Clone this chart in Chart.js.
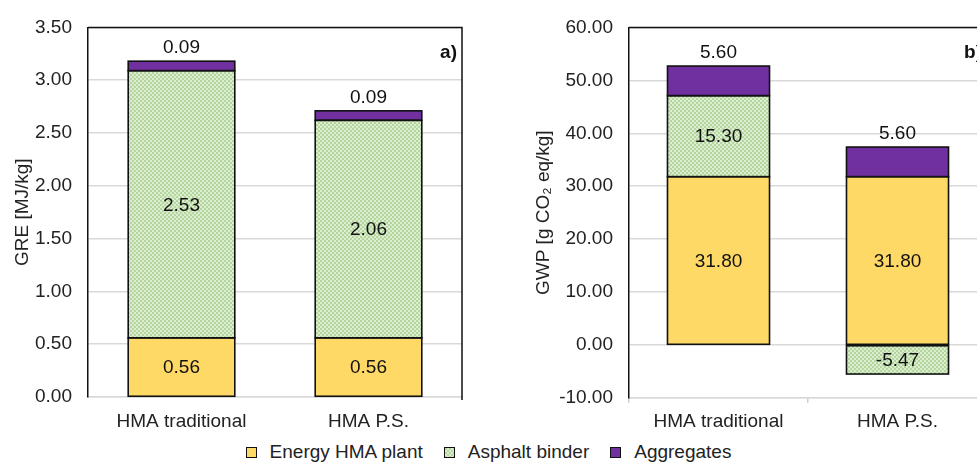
<!DOCTYPE html>
<html>
<head>
<meta charset="utf-8">
<script src="https://cdn.jsdelivr.net/npm/chart.js@4.4.1/dist/chart.umd.min.js"></script>
<style>
  html, body { margin: 0; padding: 0; background: #fff; }
  body { width: 977px; height: 463px; overflow: hidden; position: relative; font-family: 'Liberation Sans', Arial, sans-serif; }
  #chartA { position: absolute; left: 0; top: 0; }
  #chartB { position: absolute; left: 490px; top: 0; }
  #legend { position: absolute; left: 0; top: 441px; width: 977px; height: 22px;
    display: flex; justify-content: center; align-items: center; gap: 21px;
    font-size: 19px; color: #222; }
  #legend .item { display: flex; align-items: center; }
  #legend .box { width: 9px; height: 9px; border: 1.5px solid #111; margin-right: 13px; }
</style>
</head>
<body>
<canvas id="chartA" width="480" height="440"></canvas>
<canvas id="chartB" width="520" height="440"></canvas>
<div id="legend"></div>
<script>
// categories and series
const categories = ['HMA traditional', 'HMA P.S.'];
const seriesNames = ['Energy HMA plant', 'Asphalt binder', 'Aggregates'];

// a) GRE [MJ/kg]
const greEnergy = [0.56, 0.56];
const greBinder = [2.53, 2.06];
const greAggregates = [0.09, 0.09];
const greAxis = { min: 0, max: 3.5, step: 0.5 };

// b) GWP [g CO2 eq/kg]
const gwpEnergy = [31.80, 31.80];
const gwpBinder = [15.30, -5.47];
const gwpAggregates = [5.60, 5.60];
const gwpAxis = { min: -10, max: 60, step: 10 };

const FONT = "'Liberation Sans', Arial, sans-serif";
Chart.defaults.font.family = FONT;
Chart.defaults.font.size = 19;
Chart.defaults.color = '#222';

function makeChecker() {
  const c = document.createElement('canvas');
  c.width = 4; c.height = 4;
  const g = c.getContext('2d');
  g.fillStyle = '#dcedd0';
  g.fillRect(0, 0, 4, 4);
  g.fillStyle = '#b2d69d';
  g.fillRect(0, 0, 2, 2);
  g.fillRect(2, 2, 2, 2);
  return c;
}
const checkerCanvas = makeChecker();
const binderFill = document.createElement('canvas').getContext('2d').createPattern(checkerCanvas, 'repeat');
const seriesColors = ['#ffd966', binderFill, '#7030a0'];

// outlines (single line on shared edges) + value labels
const valueLabels = {
  id: 'valueLabels',
  afterDatasetsDraw(chart, args, opts) {
    const { ctx } = chart;
    ctx.save();
    ctx.strokeStyle = '#111';
    ctx.lineWidth = 1.6;
    chart.data.datasets.forEach((ds, i) => {
      chart.getDatasetMeta(i).data.forEach(bar => {
        const { x, y, base, width } = bar.getProps(['x', 'y', 'base', 'width'], true);
        ctx.strokeRect(x - width / 2, Math.min(y, base), width, Math.abs(base - y));
      });
    });
    ctx.font = '19px ' + FONT;
    ctx.fillStyle = '#111';
    ctx.textAlign = 'center';
    chart.data.datasets.forEach((ds, i) => {
      const meta = chart.getDatasetMeta(i);
      meta.data.forEach((bar, j) => {
        const v = ds.data[j];
        const text = v.toFixed(2);
        if (i === opts.aboveIndex) {
          ctx.textBaseline = 'bottom';
          ctx.fillText(text, bar.x, Math.min(bar.y, bar.base) - (opts.gap || 4));
        } else {
          ctx.textBaseline = 'middle';
          ctx.fillText(text, bar.x, (bar.y + bar.base) / 2 + 1);
        }
      });
    });
    ctx.restore();
  },
};

const plotFrame = {
  id: 'plotFrame',
  afterDraw(chart, args, opts) {
    const { ctx, chartArea } = chart;
    ctx.save();
    ctx.strokeStyle = '#111';
    ctx.lineWidth = 1.5;
    ctx.beginPath();
    ctx.moveTo(chartArea.left, chartArea.top);
    ctx.lineTo(chartArea.right, chartArea.top);
    ctx.lineTo(chartArea.right, chartArea.bottom + 3);
    ctx.stroke();
    if (opts.tag) {
      ctx.font = 'bold 19px ' + FONT;
      ctx.fillStyle = '#111';
      ctx.textAlign = 'right';
      ctx.textBaseline = 'middle';
      ctx.fillText(opts.tag, chartArea.right - 5, chartArea.top + 25);
    }
    ctx.restore();
  },
};

function buildDatasets(energy, binder, aggregates) {
  return [energy, binder, aggregates].map((values, i) => ({
    label: seriesNames[i],
    data: values,
    backgroundColor: seriesColors[i],
    borderWidth: 0,
    barPercentage: 0.57,
    categoryPercentage: 1,
  }));
}

function renderPanel(id, opts) {
  const el = document.getElementById(id);
  return new Chart(el, {
    type: 'bar',
    data: { labels: categories, datasets: buildDatasets(opts.energy, opts.binder, opts.aggregates) },
    options: {
      responsive: false,
      animation: false,
      layout: { padding: { left: 0, top: 21, right: opts.padRight, bottom: 0 } },
      scales: {
        x: {
          stacked: true,
          grid: opts.xTicks
            ? { display: true, drawOnChartArea: false, drawTicks: true, tickLength: 5, color: '#d0d0d0', lineWidth: 1.5 }
            : { display: false, drawTicks: false },
          border: { display: true, color: '#d9d9d9', width: 1.5 },
          ticks: { padding: opts.xTicks ? 7 : 13, color: '#222' },
          afterFit(scale) { scale.height = opts.xHeight; },
        },
        y: {
          stacked: true,
          min: opts.axis.min,
          max: opts.axis.max,
          ticks: { stepSize: opts.axis.step, padding: 16, color: '#222', callback: v => v.toFixed(2) },
          grid: { color: '#d9d9d9', lineWidth: 1.5, drawTicks: false },
          border: { display: true, color: '#111', width: 1.5 },
          title: { display: true, text: opts.title, color: '#222', font: { size: 19 }, padding: { top: opts.titlePad, bottom: 0 } },
          afterFit(scale) { scale.width = opts.yWidth; },
        },
      },
      plugins: {
        legend: { display: false },
        tooltip: { enabled: false },
        valueLabels: { aboveIndex: 2, gap: 4 },
        plotFrame: { tag: opts.tag },
      },
    },
    plugins: [valueLabels, plotFrame],
  });
}

renderPanel('chartA', {
  energy: greEnergy, binder: greBinder, aggregates: greAggregates, axis: greAxis,
  title: 'GRE [MJ/kg]', tag: 'a)', yWidth: 88, xHeight: 43, padRight: 18, titlePad: 11, xTicks: false,
});
renderPanel('chartB', {
  energy: gwpEnergy, binder: gwpBinder, aggregates: gwpAggregates, axis: gwpAxis,
  title: 'GWP [g CO\u2082 eq/kg]', tag: 'b)', yWidth: 139, xHeight: 42, padRight: 23, titlePad: 42, xTicks: true,
});

// shared legend below both panels
const legend = document.getElementById('legend');
seriesNames.forEach((name, i) => {
  const item = document.createElement('div');
  item.className = 'item';
  const box = document.createElement('span');
  box.className = 'box';
  if (typeof seriesColors[i] === 'string') box.style.background = seriesColors[i];
  else box.style.backgroundImage = 'url(' + checkerCanvas.toDataURL() + ')';
  const label = document.createElement('span');
  label.textContent = name;
  item.appendChild(box);
  item.appendChild(label);
  legend.appendChild(item);
});
</script>
</body>
</html>
